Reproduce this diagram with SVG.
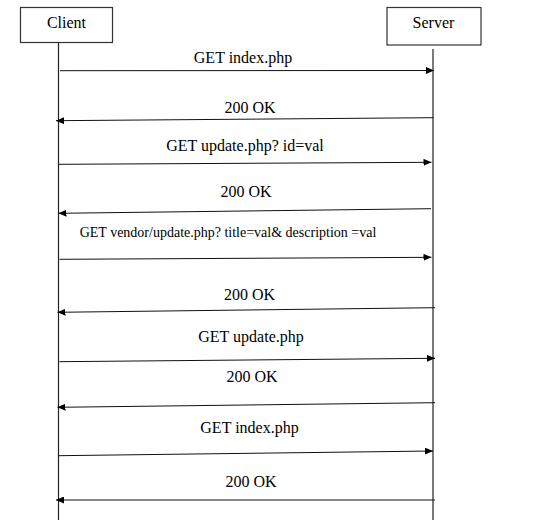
<svg xmlns="http://www.w3.org/2000/svg" width="549" height="520" viewBox="0 0 549 520">
<style>
.box{fill:#fff;stroke:#333;stroke-width:1.2}
.life{stroke:#222;stroke-width:1.2;fill:none}
.msg{stroke:#111;stroke-width:1;fill:none;marker-end:url(#ah)}
text{font-family:'Liberation Serif','Times New Roman',serif;font-size:16px;fill:#000;text-anchor:middle}
.s{font-size:14px}
</style>
<defs>
<marker id="ah" markerUnits="userSpaceOnUse" markerWidth="8" markerHeight="7" refX="8" refY="3.5" orient="auto">
<path d="M0,0 L8,3.5 L0,7 z" fill="#000"/>
</marker>
</defs>
<rect width="549" height="520" fill="#fff"/>
<g id="client">
<rect class="box" x="20.5" y="7.5" width="92" height="35"/>
<text x="66.5" y="28.3">Client</text>
<line class="life" x1="58.5" y1="42.5" x2="58.5" y2="520"/>
</g>
<g id="server">
<rect class="box" x="387" y="7.5" width="94" height="37.5"/>
<text x="433.5" y="28.3">Server</text>
<line class="life" x1="433" y1="49" x2="433" y2="520"/>
</g>
<g id="connectors">
<line class="msg" x1="60" y1="70.7" x2="434" y2="70.5"/>
<line class="msg" x1="433.5" y1="117.7" x2="56" y2="120.7"/>
<line class="msg" x1="59" y1="164.3" x2="431.5" y2="162.3"/>
<line class="msg" x1="431" y1="208.7" x2="58.5" y2="213.3"/>
<line class="msg" x1="59.5" y1="259.3" x2="431.5" y2="257.3"/>
<line class="msg" x1="435" y1="307.7" x2="57.5" y2="312.3"/>
<line class="msg" x1="59.5" y1="361.7" x2="435" y2="358.3"/>
<line class="msg" x1="435" y1="402.7" x2="57.5" y2="407.3"/>
<line class="msg" x1="59" y1="455.7" x2="433" y2="451"/>
<line class="msg" x1="435" y1="500" x2="56" y2="500"/>
</g>
<g id="labels">
<text x="243" y="62.7">GET index.php</text>
<text x="250" y="112.7">200 OK</text>
<text x="245" y="150.7">GET update.php? id=val</text>
<text x="246" y="196.7">200 OK</text>
<text class="s" x="228" y="237">GET vendor/update.php? title=val&amp; description =val</text>
<text x="249.5" y="300">200 OK</text>
<text x="251" y="341.7">GET update.php</text>
<text x="252" y="381.7">200 OK</text>
<text x="249.5" y="432.7">GET index.php</text>
<text x="251" y="486.7">200 OK</text>
</g>
</svg>
